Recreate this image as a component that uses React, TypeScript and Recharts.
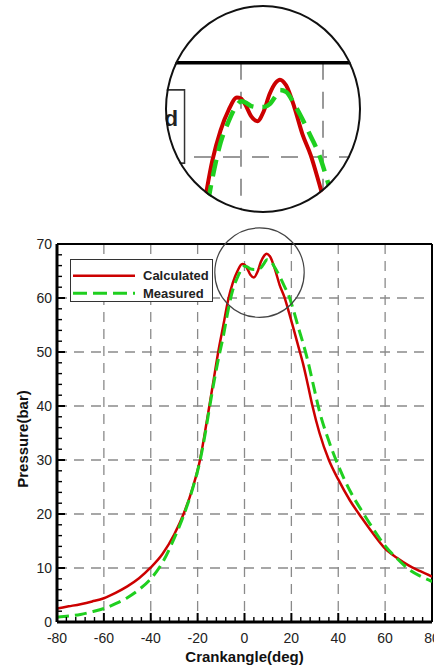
import {
  CartesianGrid,
  Legend,
  Line,
  LineChart,
  ReferenceDot,
  ReferenceLine,
  XAxis,
  YAxis,
} from "recharts";

const angles = [
  -80, -75, -70, -65, -60, -55, -50, -45, -40, -35, -30, -26, -22, -19, -17, -15, -13, -11, -9, -7, -5, -3, -1, 0, 1,
  2.5, 4, 5.5, 7, 8.5, 9.5, 11, 13, 15, 17, 19, 21, 23, 25, 27, 29, 32, 36, 40, 45, 50, 55, 60, 65, 70, 75, 80,
];

const calculated = [
  2.5, 2.9, 3.3, 3.8, 4.4, 5.4, 6.6, 8.1, 10.1, 12.6, 16.2, 20, 25, 30, 34.8, 40, 45.3, 50.5, 55, 59.6, 62.8, 65,
  66.3, 66.2, 65.6, 64.3, 63.8, 64.8, 66.7, 67.9, 68.2, 67.6, 65.3, 62.4, 60.2, 57.3, 54.2, 51, 47.8, 44, 40,
  35, 30, 26.4, 22.5, 19.3, 16.3, 13.6, 11.9, 10.5, 9.4, 8.4,
];

const measured = [
  0.9, 1.1, 1.4, 1.9, 2.5, 3.4, 4.5, 6.0, 8.0, 11.0, 15.5, 19.7, 24.9, 29.8, 34.3, 39.5, 44.5, 49, 53, 57.7, 61.5,
  63.8, 65.5, 65.9, 65.8, 65.4, 65.3, 65.3, 65.6, 66.5, 67.1, 66.9, 65.6, 64, 62.2, 60.3, 57.6, 54.5, 51.6, 48.4,
  44.6, 39, 33.5, 29, 24.3, 20.6, 17.2, 14.1, 11.8, 9.8, 8.5, 7.5,
];

const xMajor = [-80, -60, -40, -20, 0, 20, 40, 60, 80];
const yMajor = [0, 10, 20, 30, 40, 50, 60, 70];
const xTicks = Array.from({ length: 41 }, (_, i) => -80 + i * 4);
const yTicks = Array.from({ length: 36 }, (_, i) => i * 2);

const data = angles.map((a, i) => ({ angle: a, calculated: calculated[i], measured: measured[i] }));

const RED = "#cc0000";
const GREEN = "#1fcf1f";
const FONT = "'Liberation Sans', Arial, sans-serif";

const XTick = (p: any) => {
  const v = p.payload.value;
  const major = xMajor.includes(v);
  return (
    <g>
      <line x1={p.x} x2={p.x} y1={p.y} y2={p.y - (major ? 9 : 5)} stroke="#000" strokeWidth={major ? 2 : 1.4} />
      {major && (
        <text x={p.x} y={p.y + 21} textAnchor="middle" fontSize={14} fill="#222" fontFamily={FONT}>
          {v}
        </text>
      )}
    </g>
  );
};

const YTick = (p: any) => {
  const v = p.payload.value;
  const major = yMajor.includes(v);
  return (
    <g>
      <line x1={p.x} x2={p.x + (major ? 8 : 5)} y1={p.y} y2={p.y} stroke="#000" strokeWidth={major ? 2 : 1.4} />
      {major && (
        <text x={p.x - 5} y={p.y + 5} textAnchor="end" fontSize={14} fill="#222" fontFamily={FONT}>
          {v}
        </text>
      )}
    </g>
  );
};

function LegendBox() {
  return (
    <svg width={143} height={43} style={{ display: "block" }}>
      <rect x={0.5} y={0.5} width={142} height={42} fill="#fff" stroke="#333" strokeWidth={1} />
      <line x1={3} x2={65} y1={16.7} y2={16.7} stroke={RED} strokeWidth={2.5} />
      <line x1={3} x2={65} y1={34.3} y2={34.3} stroke={GREEN} strokeWidth={3} strokeDasharray="14 6" />
      <text x={73} y={21} fontSize={13} fontWeight="bold" fill="#222" fontFamily={FONT}>
        Calculated
      </text>
      <text x={73} y={39} fontSize={13} fontWeight="bold" fill="#222" fontFamily={FONT}>
        Measured
      </text>
    </svg>
  );
}

export default function App() {
  return (
    <div style={{ position: "absolute", left: 0, top: 0, width: 434, height: 667, overflow: "hidden", background: "#fff" }}>
      <LineChart width={450} height={667} data={data} margin={{ top: 244, right: 18, bottom: 15, left: 17 }}>
        <CartesianGrid
          stroke="#8a8a8a"
          strokeWidth={1.3}
          strokeDasharray="10 7"
          verticalValues={[-60, -40, -20, 0, 20, 40, 60]}
          horizontalValues={[10, 20, 30, 40, 50, 60]}
        />
        <XAxis
          dataKey="angle"
          type="number"
          domain={[-80, 80]}
          ticks={xTicks}
          interval={0}
          tick={XTick}
          tickLine={false}
          tickSize={0}
          tickMargin={0}
          height={30}
          axisLine={{ stroke: "#000", strokeWidth: 3 }}
          allowDataOverflow
          label={{
            content: (props: any) => {
              const vb = props.viewBox;
              return (
                <text x={vb.x + vb.width / 2} y={vb.y + vb.height + 10} textAnchor="middle" fontSize={15} fontWeight="bold" fill="#111" fontFamily={FONT}>
                  Crankangle(deg)
                </text>
              );
            },
          }}
        />
        <YAxis
          type="number"
          domain={[0, 70]}
          ticks={yTicks}
          interval={0}
          tick={YTick}
          tickLine={false}
          tickSize={0}
          tickMargin={0}
          width={40}
          axisLine={{ stroke: "#000", strokeWidth: 3 }}
          allowDataOverflow
          label={{
            content: (props: any) => {
              const vb = props.viewBox;
              const cx = vb.x + 5;
              const cy = vb.y + vb.height / 2 + 6;
              return (
                <text x={cx} y={cy} transform={`rotate(-90 ${cx} ${cy})`} textAnchor="middle" dominantBaseline="central" fontSize={15} fontWeight="bold" fill="#111" fontFamily={FONT}>
                  Pressure(bar)
                </text>
              );
            },
          }}
        />
        <ReferenceLine y={70} stroke="#000" strokeWidth={2} />
        <ReferenceLine x={80} stroke="#000" strokeWidth={2} />
        <Line type="monotone" dataKey="calculated" stroke={RED} strokeWidth={2.5} dot={false} isAnimationActive={false} />
        <Line type="monotone" dataKey="measured" stroke={GREEN} strokeWidth={3} strokeDasharray="12 6" dot={false} isAnimationActive={false} />
        <ReferenceDot x={6.4} y={64.7} r={44.7} fill="none" stroke="#444" strokeWidth={1.2} />
        <Legend
          layout="vertical"
          align="center"
          verticalAlign="middle"
          content={() => <LegendBox />}
          wrapperStyle={{ left: 70, top: 259, width: 143, height: 43 }}
        />
      </LineChart>

      <div style={{ position: "absolute", left: 165, top: 5, width: 196, height: 208, borderRadius: "50%", overflow: "hidden", background: "#fff" }}>
        <LineChart width={196} height={208} data={data} margin={{ top: 0, right: 0, bottom: 0, left: 0 }}>
          <XAxis dataKey="angle" type="number" domain={[-18.54, 29.27]} hide allowDataOverflow />
          <YAxis type="number" domain={[54.06, 76.12]} hide allowDataOverflow />
          <ReferenceLine segment={[{ x: 0, y: 70 }, { x: 0, y: 54.06 }]} stroke="#999" strokeWidth={2} strokeDasharray="17 12" />
          <ReferenceLine segment={[{ x: 20, y: 70 }, { x: 20, y: 54.06 }]} stroke="#999" strokeWidth={2} strokeDasharray="17 12" />
          <ReferenceLine y={60} stroke="#999" strokeWidth={2} strokeDasharray="17 12" />
          <ReferenceLine y={70} stroke="#000" strokeWidth={3.5} />
          <Line type="monotone" dataKey="calculated" stroke={RED} strokeWidth={4} dot={false} isAnimationActive={false} />
          <Line type="monotone" dataKey="measured" stroke={GREEN} strokeWidth={4.5} strokeDasharray="17 9" dot={false} isAnimationActive={false} />
          <Legend
            layout="vertical"
            align="center"
            verticalAlign="middle"
            content={() => <LegendBox />}
            wrapperStyle={{ left: -228.9, top: 83.9, width: 143, height: 43, transform: "scale(1.745)", transformOrigin: "0 0" }}
          />
        </LineChart>
      </div>
      <div
        style={{
          position: "absolute",
          left: 165,
          top: 5,
          width: 196,
          height: 208,
          borderRadius: "50%",
          border: "2.5px solid #111",
          boxSizing: "border-box",
          pointerEvents: "none",
        }}
      />
    </div>
  );
}
